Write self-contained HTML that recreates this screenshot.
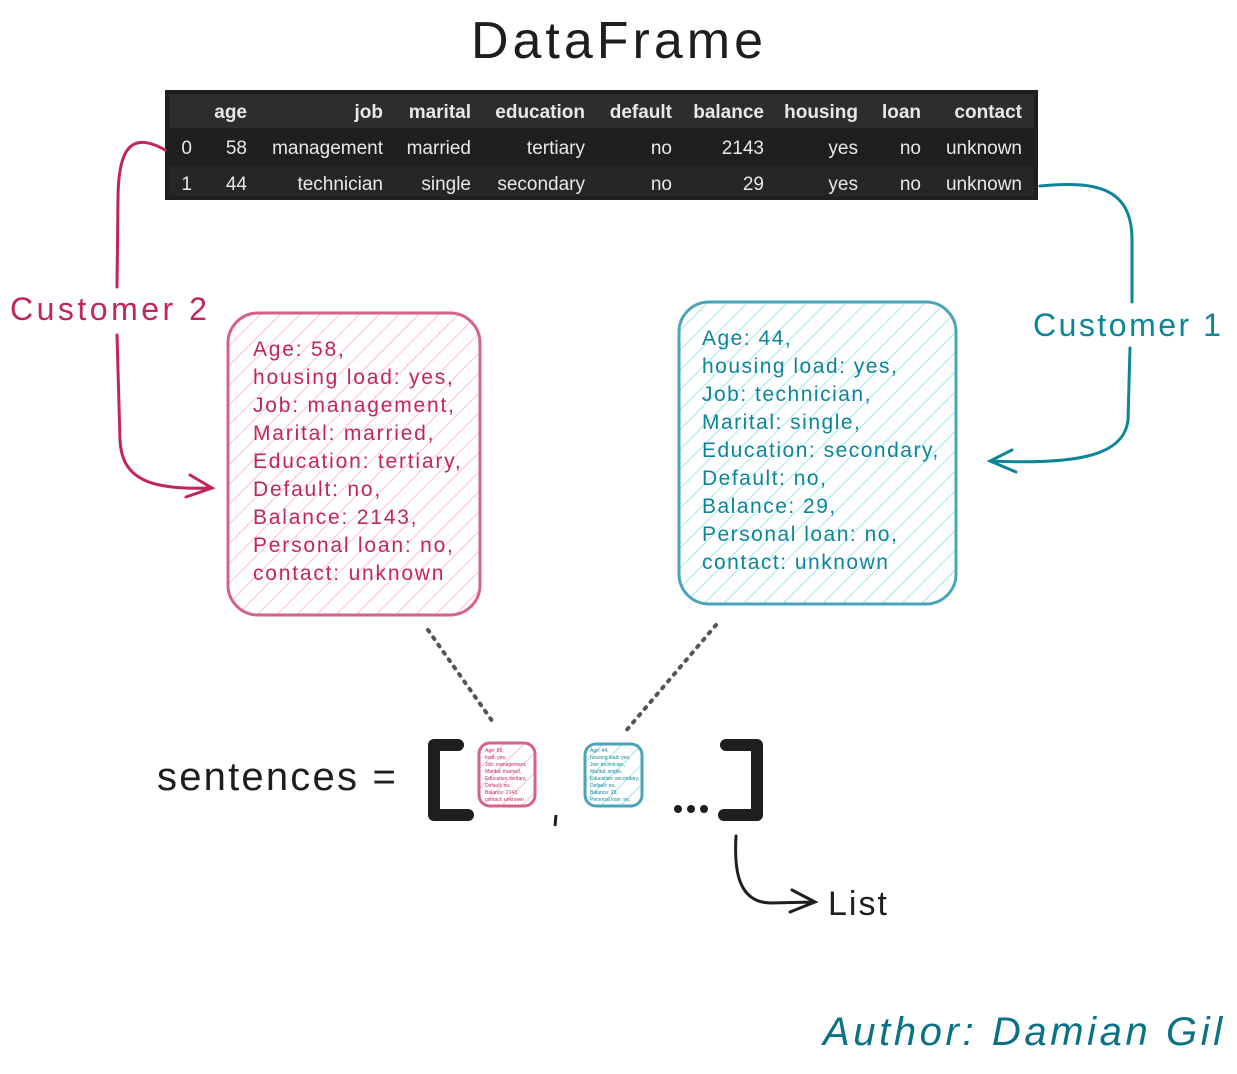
<!DOCTYPE html>
<html><head><meta charset="utf-8"><style>
body{margin:0;background:#fff;width:1237px;height:1069px;overflow:hidden;}
svg text{font-family:"Liberation Sans",sans-serif;}
</style></head><body>
<svg width="1237" height="1069" viewBox="0 0 1237 1069" xmlns="http://www.w3.org/2000/svg">
<defs>
<pattern id="hp" width="14" height="14" patternUnits="userSpaceOnUse" patternTransform="rotate(45)"><line x1="0" y1="0" x2="0" y2="14" stroke="#ffc2c8" stroke-width="2"/></pattern>
<pattern id="ht" width="14" height="14" patternUnits="userSpaceOnUse" patternTransform="rotate(45)"><line x1="0" y1="0" x2="0" y2="14" stroke="#9ee6f0" stroke-width="2"/></pattern>
</defs>
<text x="619" y="58" font-size="52" text-anchor="middle" fill="#1e1e1e" letter-spacing="4">DataFrame</text>
<rect x="165" y="90" width="873" height="110" fill="#1f1f1f"/>
<rect x="169" y="94" width="865" height="34" fill="#2d2d2d"/>
<rect x="169" y="166" width="865" height="30" fill="#262626"/>
<g font-size="19" fill="#e8e8e8" text-anchor="end">
<g font-weight="bold"><text x="247" y="118">age</text><text x="383" y="118">job</text><text x="471" y="118">marital</text><text x="585" y="118">education</text><text x="672" y="118">default</text><text x="764" y="118">balance</text><text x="858" y="118">housing</text><text x="921" y="118">loan</text><text x="1022" y="118">contact</text></g>
<text x="192" y="154">0</text><text x="247" y="154">58</text><text x="383" y="154">management</text><text x="471" y="154">married</text><text x="585" y="154">tertiary</text><text x="672" y="154">no</text><text x="764" y="154">2143</text><text x="858" y="154">yes</text><text x="921" y="154">no</text><text x="1022" y="154">unknown</text>
<text x="192" y="190">1</text><text x="247" y="190">44</text><text x="383" y="190">technician</text><text x="471" y="190">single</text><text x="585" y="190">secondary</text><text x="672" y="190">no</text><text x="764" y="190">29</text><text x="858" y="190">yes</text><text x="921" y="190">no</text><text x="1022" y="190">unknown</text>
</g>
<g fill="none" stroke-width="3" stroke-linecap="round">
<path d="M165 150 C130 130 118 150 118 200 L117 287 M117 335 L120 440 C122 480 150 490 212 488 M190 475 L212 488 L186 497" stroke="#c2255c"/>
<path d="M1040 186 C1100 180 1132 190 1132 240 L1132 302 M1130 348 L1128 420 C1124 455 1080 465 990 461 M1012 450 L990 461 L1016 472" stroke="#0c8599"/>
<path d="M428 630 L495 725" stroke="#555" stroke-width="4" stroke-dasharray="2 7"/>
<path d="M716 625 L625 732" stroke="#555" stroke-width="4" stroke-dasharray="2 7"/>
<path d="M736 836 C734 870 738 902 770 903 L815 902 M792 890 L815 902 L790 912" stroke="#1e1e1e"/>
</g>
<text x="10" y="320" font-size="32" fill="#c2255c" letter-spacing="3.5">Customer 2</text>
<text x="1033" y="336" font-size="32" fill="#0c8599" letter-spacing="2.5">Customer 1</text>
<rect x="228" y="313" width="252" height="302" rx="30" fill="url(#hp)" stroke="#d6618c" stroke-width="3"/>
<rect x="679" y="302" width="277" height="302" rx="30" fill="url(#ht)" stroke="#4aa5b8" stroke-width="3"/>
<g font-size="21" fill="#c2255c" letter-spacing="1.8">
<text x="253" y="356">Age: 58,</text><text x="253" y="384">housing load: yes,</text><text x="253" y="412">Job: management,</text><text x="253" y="440">Marital: married,</text><text x="253" y="468">Education: tertiary,</text><text x="253" y="496">Default: no,</text><text x="253" y="524">Balance: 2143,</text><text x="253" y="552">Personal loan: no,</text><text x="253" y="580">contact: unknown</text>
</g>
<g font-size="21" fill="#0c8599" letter-spacing="1.5">
<text x="702" y="345">Age: 44,</text><text x="702" y="373">housing load: yes,</text><text x="702" y="401">Job: technician,</text><text x="702" y="429">Marital: single,</text><text x="702" y="457">Education: secondary,</text><text x="702" y="485">Default: no,</text><text x="702" y="513">Balance: 29,</text><text x="702" y="541">Personal loan: no,</text><text x="702" y="569">contact: unknown</text>
</g>
<text x="157" y="790" font-size="40" fill="#1e1e1e" letter-spacing="2.2">sentences =</text>
<path d="M458 745 L434 745 L434 815 L468 815" fill="none" stroke="#1e1e1e" stroke-width="12" stroke-linecap="round" stroke-linejoin="round"/>
<path d="M726 745 L757 745 L757 815 L724 815" fill="none" stroke="#1e1e1e" stroke-width="12" stroke-linecap="round" stroke-linejoin="round"/>
<rect x="479" y="743" width="56" height="63" rx="11" fill="url(#hp)" stroke="#d6618c" stroke-width="3"/>
<rect x="585" y="744" width="57" height="62" rx="11" fill="url(#ht)" stroke="#4aa5b8" stroke-width="3"/>
<g font-size="5" fill="#c2255c"><text x="485" y="752">Age: 58,</text><text x="485" y="759">load: yes,</text><text x="485" y="766">Job: management,</text><text x="485" y="773">Marital: married,</text><text x="485" y="780">Education: tertiary,</text><text x="485" y="787">Default: no,</text><text x="485" y="794">Balance: 2143,</text><text x="485" y="801">contact: unknown</text></g>
<g font-size="5" fill="#0c8599"><text x="590" y="752">Age: 44,</text><text x="590" y="759">housing load: yes,</text><text x="590" y="766">Job: technician,</text><text x="590" y="773">Marital: single,</text><text x="590" y="780">Education: secondary,</text><text x="590" y="787">Default: no,</text><text x="590" y="794">Balance: 29,</text><text x="590" y="801">Personal loan: no,</text></g>
<line x1="556" y1="815" x2="555" y2="826" stroke="#1e1e1e" stroke-width="3"/>
<g fill="#1e1e1e"><circle cx="678" cy="809" r="4"/><circle cx="691" cy="809" r="4"/><circle cx="704" cy="809" r="4"/></g>
<text x="828" y="915" font-size="34" fill="#1e1e1e" letter-spacing="2">List</text>
<text x="823" y="1045" font-size="40" fill="#0b7285" font-style="italic" letter-spacing="3.6">Author: Damian Gil</text>
</svg>
</body></html>
